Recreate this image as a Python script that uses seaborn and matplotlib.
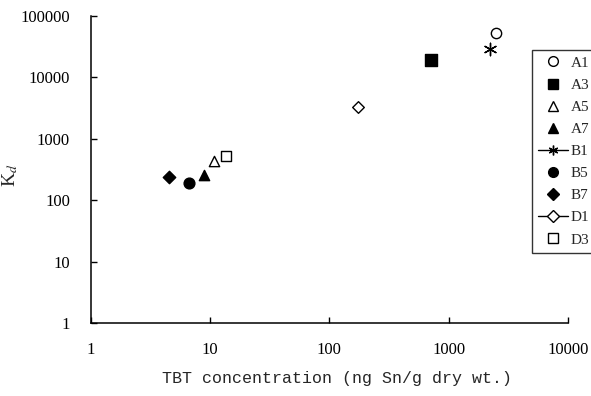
import matplotlib
matplotlib.use("Agg")
import matplotlib.pyplot as plt
from matplotlib.lines import Line2D
import seaborn as sns
import pandas as pd

# data
samples = ['A1', 'A3', 'A5', 'A7', 'B1', 'B5', 'B7', 'D1', 'D3']
tbt_conc = [2500, 710, 10.8, 8.9, 2230, 6.7, 4.5, 175, 13.7]
kd_values = [52000, 19000, 430, 255, 28800, 190, 240, 3250, 530]

markers = ['o', 's', '^', '^', (6, 2, 0), 'o', 'D', 'D', 's']
filled = [False, True, False, True, True, True, True, False, False]
sizes = [55, 65, 55, 55, 80, 60, 40, 35, 60]
with_line = ['B1', 'D1']

df = pd.DataFrame({'sample': samples, 'tbt': tbt_conc, 'kd': kd_values})

sns.set_style('ticks')
plt.rcParams['font.family'] = ['Liberation Serif', 'DejaVu Serif']
plt.rcParams['mathtext.fontset'] = 'stix'

fig = plt.figure(figsize=(5.91, 3.96), dpi=100)
ax = fig.add_axes([0.1535, 0.1843, 0.8075, 0.7753])

handles = []
for i, row in df.iterrows():
    face = 'black' if filled[i] else 'white'
    sns.scatterplot(x=[row['tbt']], y=[row['kd']], marker=markers[i], s=sizes[i],
                    color=face, edgecolor='black', linewidth=1.0, ax=ax, zorder=3)
    ls = '-' if row['sample'] in with_line else 'none'
    handles.append(Line2D([0], [0], color='black', linestyle=ls, linewidth=1.0,
                          marker=markers[i], markersize=7 if markers[i] != 'D' else 6,
                          markerfacecolor=face, markeredgecolor='black',
                          label=row['sample']))

ax.set_xscale('log')
ax.set_yscale('log')
ax.set_xlim(1, 10000)
ax.set_ylim(1, 100000)
ax.set_xticks([1, 10, 100, 1000, 10000])
ax.set_xticklabels(['1', '10', '100', '1000', '10000'])
ax.set_yticks([1, 10, 100, 1000, 10000, 100000])
ax.set_yticklabels(['1', '10', '100', '1000', '10000', '100000'])
ax.minorticks_off()
ax.tick_params(direction='in', length=4, width=1, labelsize=12, colors='black')
ax.tick_params(axis='y', pad=15)
ax.tick_params(axis='x', pad=14)
sns.despine(ax=ax)
for s in ['left', 'bottom']:
    ax.spines[s].set_color('black')
    ax.spines[s].set_linewidth(1.1)

ax.set_xlabel('TBT concentration (ng Sn/g dry wt.)', fontsize=12,
              family=['Liberation Mono'])
ax.xaxis.set_label_coords(0.517, -0.155)
ax.set_ylabel('K$_d$', fontsize=14, rotation=90)
ax.yaxis.set_label_coords(-0.148, 0.48)

leg = fig.legend(handles=handles, loc='upper left', bbox_to_anchor=(531.5 / 591, 1 - 50 / 396),
                 frameon=True, fancybox=False, shadow=False, fontsize=11,
                 handlelength=2.0, handletextpad=0.15, labelspacing=0.55,
                 borderpad=0.4, borderaxespad=0)
leg.get_frame().set_edgecolor('black')
leg.get_frame().set_linewidth(1.0)

fig.savefig('out.png', dpi=100)
